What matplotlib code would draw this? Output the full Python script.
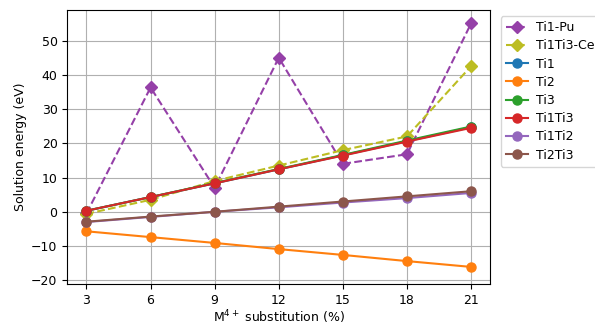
import matplotlib
matplotlib.use("Agg")
import matplotlib.pyplot as plt

x = [3, 6, 9, 12, 15, 18, 21]

ti1_pu = [-0.5, 36.3, 7.0, 45.0, 14.0, 16.8, 55.0]
ti1ti3_ce = [-0.6, 3.5, 9.0, 13.5, 18.0, 22.0, 42.5]
ti1 = [0.3, 4.3, 8.3, 12.4, 16.5, 20.6, 24.7]
ti2 = [-5.7, -7.4, -9.1, -10.9, -12.6, -14.4, -16.1]
ti3 = [0.3, 4.3, 8.4, 12.5, 16.6, 20.8, 24.9]
ti1ti3 = [0.3, 4.3, 8.3, 12.4, 16.4, 20.5, 24.5]
ti1ti2 = [-3.0, -1.5, 0.0, 1.3, 2.7, 4.0, 5.5]
ti2ti3 = [-2.9, -1.4, 0.0, 1.5, 3.0, 4.5, 6.0]

fs = 9
fig = plt.figure(figsize=(5.95, 3.25), dpi=100)
ax = fig.add_axes([0.113, 0.125, 0.711, 0.845])

ax.plot(x, ti1_pu, '--D', color='#9540a8', ms=6.5, label='Ti1-Pu')
ax.plot(x, ti1ti3_ce, '--D', color='C8', ms=6.5, label='Ti1Ti3-Ce')
ax.plot(x, ti1, '-o', color='C0', ms=6.5, label='Ti1')
ax.plot(x, ti2, '-o', color='C1', ms=6.5, label='Ti2')
ax.plot(x, ti3, '-o', color='C2', ms=6.5, label='Ti3')
ax.plot(x, ti1ti3, '-o', color='C3', ms=6.5, label='Ti1Ti3')
ax.plot(x, ti1ti2, '-o', color='C4', ms=6.5, label='Ti1Ti2')
ax.plot(x, ti2ti3, '-o', color='C5', ms=6.5, label='Ti2Ti3')

ax.set_xticks(x)
ax.set_ylim(-21.2, 59)
ax.tick_params(labelsize=fs)
ax.set_xlabel('M$^{4+}$ substitution (%)', fontsize=fs, labelpad=1)
ax.set_ylabel('Solution energy (eV)', fontsize=fs, labelpad=3)
ax.grid(True)
ax.legend(loc='upper left', bbox_to_anchor=(1.01, 1.0), fontsize=fs,
          handlelength=1.8, handletextpad=0.6, labelspacing=0.42)

fig.savefig('out.png')
